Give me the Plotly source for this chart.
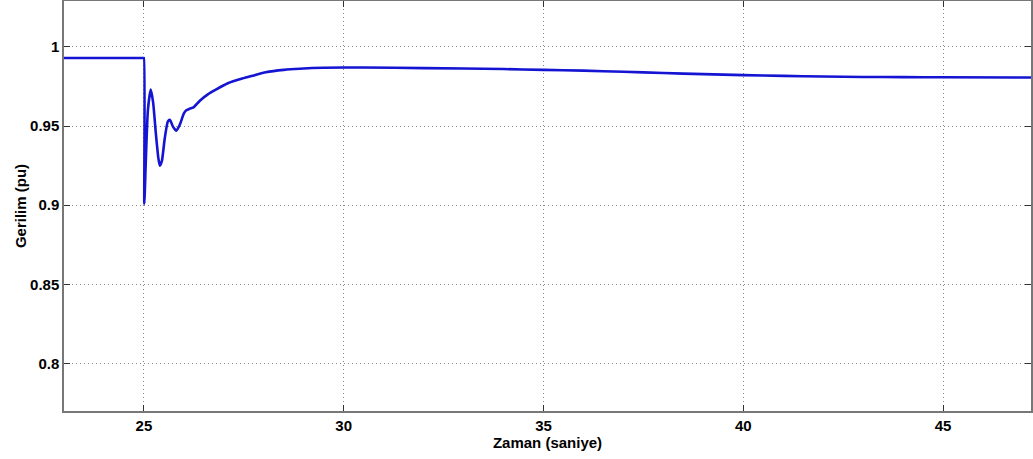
import plotly.graph_objects as go

time_s = [23.0, 24.99, 25.0, 25.01, 25.05, 25.1, 25.17, 25.23, 25.3, 25.36, 25.4, 25.45,
          25.52, 25.6, 25.65, 25.72, 25.81, 25.9, 26.0, 26.06, 26.15, 26.25, 26.4, 26.6,
          26.8, 27.1, 27.46, 27.75, 28.05, 28.5, 28.9, 29.5, 30.5, 32.0, 34.0, 35.0, 36.0,
          37.0, 38.0, 39.0, 40.0, 41.0, 42.0, 43.0, 44.0, 45.0, 47.2]
voltage_pu = [0.993, 0.993, 0.993, 0.901, 0.93, 0.96, 0.973, 0.965, 0.945, 0.930, 0.925, 0.928,
              0.942, 0.953, 0.954, 0.950, 0.947, 0.951, 0.958, 0.960, 0.961, 0.962, 0.966, 0.970,
              0.973, 0.977, 0.980, 0.982, 0.984, 0.9855, 0.9862, 0.9868, 0.987, 0.9866, 0.986,
              0.9855, 0.985, 0.9843, 0.9835, 0.9828, 0.9822, 0.9817, 0.9813, 0.981, 0.9809,
              0.9808, 0.9807]

x_ticks = [25, 30, 35, 40, 45]
y_ticks = [0.8, 0.85, 0.9, 0.95, 1.0]
y_tick_labels = ["0.8", "0.85", "0.9", "0.95", "1"]

fig = go.Figure()
fig.add_trace(go.Scatter(x=time_s, y=voltage_pu, mode="lines",
                         line=dict(color="rgb(20,20,210)", width=2.6, shape="spline", smoothing=0.6),
                         showlegend=False))

font = dict(family="Liberation Sans, Arial, sans-serif", size=15, color="black", weight="bold")
axis_common = dict(showline=True, linecolor="#777777", linewidth=1.5, mirror="ticks",
                   ticks="inside", ticklen=6, tickcolor="#333333",
                   showgrid=True, gridcolor="#888888", griddash="1px,3px", gridwidth=1,
                   zeroline=False, tickfont=font, automargin=False)

fig.update_layout(
    width=1033, height=459,
    margin=dict(l=64, r=2, t=1, b=48),
    paper_bgcolor="white", plot_bgcolor="white",
    xaxis=dict(range=[23, 47.2], tickvals=x_ticks,
               title=dict(text="Zaman (saniye)", font=dict(font, size=15), standoff=0),
               **axis_common),
    yaxis=dict(range=[0.77, 1.029], tickvals=y_ticks, ticktext=y_tick_labels,
               title=dict(text="Gerilim (pu)", font=dict(font, size=15), standoff=0),
               **axis_common),
)

fig.write_html("out.html", config={"displayModeBar": False},
               post_script="document.body.style.margin='0';document.body.style.overflow='hidden';")
